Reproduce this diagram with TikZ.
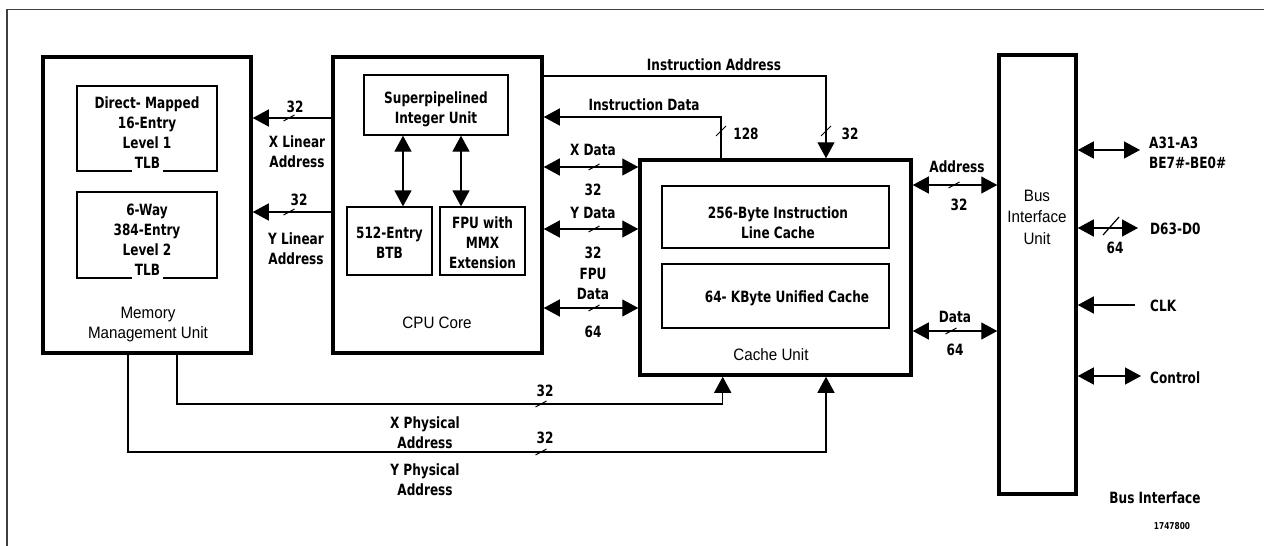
\documentclass[tikz,border=0pt]{standalone}
\usepackage{fontspec}
\newfontfamily\lblfont{DejaVu Sans}[FakeStretch=0.78]
\newfontfamily\regfont{Liberation Sans}[FakeStretch=0.92]
\usetikzlibrary{arrows.meta}

\begin{document}
\begin{tikzpicture}[x=1pt,y=-1pt,
  >={Triangle[length=16pt,width=17pt]},
  bigbox/.style={draw,line width=3.5pt,inner sep=0pt},
  smallbox/.style={draw,line width=1.3pt,inner sep=0pt},
  wire/.style={line width=1.3pt},
  lbl/.style={font=\lblfont\bfseries\fontsize{15.5}{20}\selectfont,inner sep=0pt,align=center},
  lbll/.style={lbl,align=left,anchor=west},
  reg/.style={font=\regfont\fontsize{16.5}{20}\selectfont,inner sep=0pt,align=center},
  hslash/.pic={\draw[line width=1pt] (-5.5,3) -- (5.5,-3);},
  vslash/.pic={\draw[line width=1pt] (-5,5) -- (5,-5);},
  bigslash/.pic={\draw[line width=1.2pt] (-8,9) -- (8,-9);},
]
\useasboundingbox (0,0) rectangle (1264,546);

% page frame (top and left edges)
\draw[black!75,line width=1.5pt] (7,546) -- (7,9.5) -- (1264,9.5);

% main units
\node[bigbox,minimum width=208pt,minimum height=296pt] (mmu) at (147,205) {};
\node[bigbox,minimum width=209pt,minimum height=296pt] (cpu) at (437.5,205) {};
\node[bigbox,minimum width=271pt,minimum height=215pt] (cache) at (775.5,267.5) {};
\node[bigbox,minimum width=77pt,minimum height=439pt] (biu) at (1037.5,274.5) {};

% inner blocks
\node[smallbox,minimum width=140pt,minimum height=85pt] (tlbA) at (147,128.5) {};
\node[smallbox,minimum width=140pt,minimum height=86pt] (tlbB) at (147,235) {};
\node[smallbox,minimum width=144pt,minimum height=60pt] (iu) at (436,105) {};
\node[smallbox,minimum width=85pt,minimum height=68pt] (btb) at (389.5,241) {};
\node[smallbox,minimum width=85pt,minimum height=68pt] (fpu) at (482.5,241) {};
\node[smallbox,minimum width=227pt,minimum height=62pt] (ilc) at (775.5,217) {};
\node[smallbox,minimum width=227pt,minimum height=64pt] (uc) at (775.5,296) {};

% block texts
\node[lbl] (tlbAtxt) at (147,123) {Direct- Mapped\\16-Entry\\Level 1};
\node[lbl,anchor=base,fill=white,inner xsep=2.5pt,text depth=4pt] (tlbAend) at (147.5,168) {TLB};
\node[lbl] (tlbBtxt) at (147,230) {6-Way\\384-Entry\\Level 2};
\node[lbl,anchor=base,fill=white,inner xsep=2.5pt,text depth=4pt] (tlbBend) at (147.5,275) {TLB};
\node[reg] (mmutxt) at (148,325) {Memory\\Management Unit};
\node[lbl] (iutxt) at (436,109) {Superpipelined\\Integer Unit};
\node[lbl] (btbtxt) at (389.5,243) {512-Entry\\BTB};
\node[lbl] (fputxt) at (482.5,243) {FPU with\\MMX\\Extension};
\node[reg] (cputxt) at (437,323) {CPU Core};
\node[lbl] (ilctxt) at (778,222.5) {256-Byte Instruction\\Line Cache};
\node[lbl] (uctxt) at (787,298) {64- KByte Unified Cache};
\node[reg] (cachetxt) at (771,355) {Cache Unit};
\node[reg,font=\regfont\fontsize{16.5}{21.5}\selectfont] (biutxt) at (1037,217) {Bus\\Interface\\Unit};

% linear address paths
\draw[wire,->] (cpu.west |- 0,118) -- (mmu.east |- 0,118);
\path (289,118) pic{hslash};
\node[lbl] (xlinN) at (295,107) {32};
\node[lbl] (xlinL) at (297,152) {X Linear\\Address};
\draw[wire,->] (cpu.west |- 0,212) -- (mmu.east |- 0,212);
\path (289,212) pic{hslash};
\node[lbl] (ylinN) at (299,200) {32};
\node[lbl] (ylinL) at (296,248.5) {Y Linear\\Address};

% integer unit to BTB and FPU
\draw[wire,<->] (403,0 |- iu.south) -- (403,0 |- btb.north);
\draw[wire,<->] (461,0 |- iu.south) -- (461,0 |- fpu.north);

% instruction address and data
\draw[wire,->] (cpu.east |- 0,76) -| (826,0 |- cache.north);
\path (826,131) pic{vslash};
\node[lbl] (iaL) at (714,65) {Instruction Address};
\node[lbl] (iaN) at (850,134) {32};
\draw[wire,->] (721,0 |- cache.north) |- (cpu.east |- 0,117);
\path (721,131) pic{vslash};
\node[lbl] (idL) at (644,105) {Instruction Data};
\node[lbl] (idN) at (746,134) {128};

% data paths between CPU core and cache
\draw[wire,<->] (cpu.east |- 0,167) -- (cache.west |- 0,167);
\path (594,167) pic{hslash};
\node[lbl] (xdL) at (593,150) {X Data};
\node[lbl] (xdN) at (593,190) {32};
\draw[wire,<->] (cpu.east |- 0,229) -- (cache.west |- 0,229);
\path (594,229) pic{hslash};
\node[lbl] (ydL) at (593,213) {Y Data};
\node[lbl] (ydN) at (593,253) {32};
\draw[wire,<->] (cpu.east |- 0,308) -- (cache.west |- 0,308);
\path (594,308) pic{hslash};
\node[lbl] (fdL) at (593,284) {FPU\\Data};
\node[lbl] (fdN) at (593,332) {64};

% cache to bus interface
\draw[wire,<->] (cache.east |- 0,185) -- (biu.west |- 0,185);
\path (954,185) pic{hslash};
\node[lbl] (adL) at (957,167) {Address};
\node[lbl] (adN) at (959,205) {32};
\draw[wire,<->] (cache.east |- 0,331) -- (biu.west |- 0,331);
\path (951,331) pic{hslash};
\node[lbl] (daL) at (955,317) {Data};
\node[lbl] (daN) at (955,350) {64};

% physical addresses
\draw[wire,->] (177,0 |- mmu.south) -- (177,404) -| (722.7,0 |- cache.south);
\path (541,404) pic{hslash};
\node[lbl] (xpN) at (545,391) {32};
\node[lbl] (xpL) at (425,433) {X Physical\\Address};
\draw[wire,->] (128,0 |- mmu.south) -- (128,452) -| (826,0 |- cache.south);
\path (541,452) pic{hslash};
\node[lbl] (ypN) at (545,438) {32};
\node[lbl] (ypL) at (425,479.5) {Y Physical\\Address};

% external bus signals
\coordinate (aEnd) at (1140,150);
\coordinate (dEnd) at (1138,228);
\coordinate (cEnd) at (1135,305);
\coordinate (kEnd) at (1141,376);
\draw[wire,<->] (biu.east |- aEnd) -- (aEnd);
\node[lbll] (aL) at (1149,153) {A31-A3\\BE7\#-BE0\#};
\draw[wire,<->] (biu.east |- dEnd) -- (dEnd);
\path (1111,226) pic{bigslash};
\node[lbl] (dN) at (1115,248) {64};
\node[lbll] (dL) at (1150,229) {D63-D0};
\draw[wire,->] (cEnd) -- (biu.east |- cEnd);
\node[lbll] (clkL) at (1150,306) {CLK};
\draw[wire,<->] (biu.east |- kEnd) -- (kEnd);
\node[lbll] (ctlL) at (1150,378) {Control};

\node[lbl] (busL) at (1155,498) {Bus Interface};
\node[lbl,font=\lblfont\bfseries\fontsize{9.5}{11}\selectfont] (figno) at (1172,526) {1747800};
\end{tikzpicture}
\end{document}
